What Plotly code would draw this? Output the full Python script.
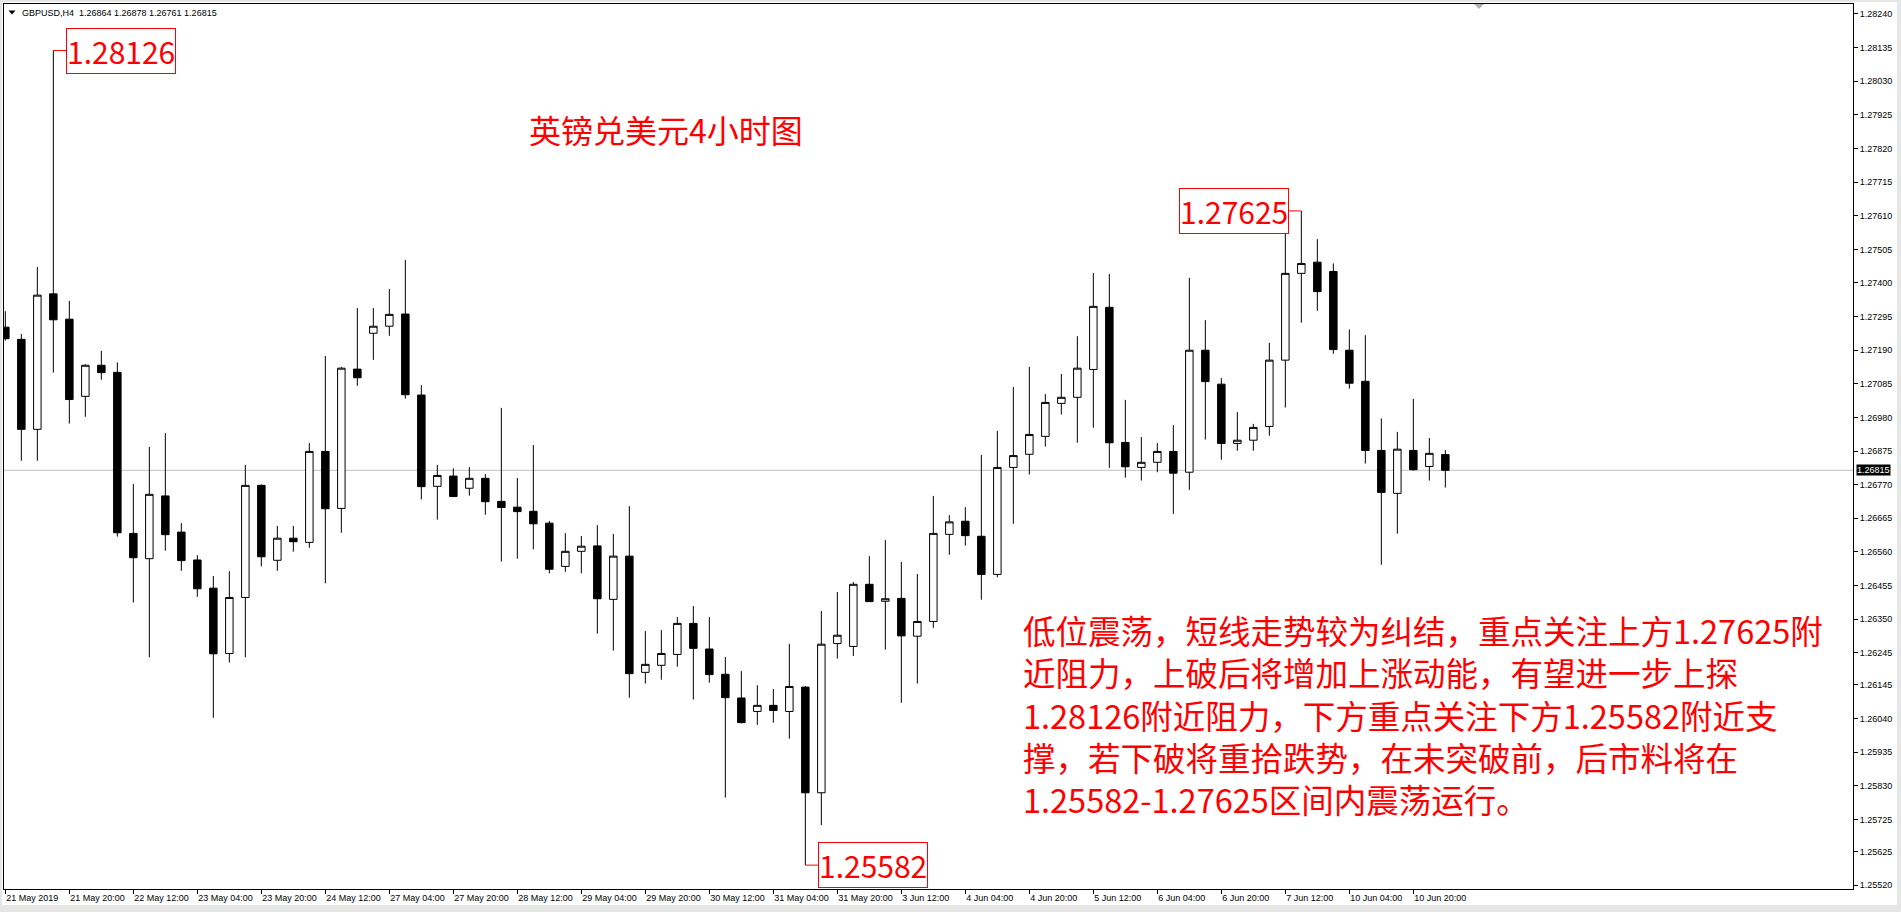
import plotly.graph_objects as go

# ---------------- data ----------------
opens = [1.27262, 1.27224, 1.26943, 1.27366, 1.27287, 1.27046, 1.27143, 1.27121, 1.26618, 1.26539,
         1.26735, 1.26622, 1.26535, 1.26447, 1.26243, 1.26418, 1.26768, 1.26534, 1.26603, 1.26590,
         1.26874, 1.26696, 1.27131, 1.27243, 1.27265, 1.27303, 1.27050, 1.26765, 1.26797, 1.26759,
         1.26790, 1.26718, 1.26700, 1.26687, 1.26650, 1.26515, 1.26562, 1.26579, 1.26412, 1.26547,
         1.26184, 1.26206, 1.26240, 1.26337, 1.26257, 1.26178, 1.26104, 1.26062, 1.26081, 1.26062,
         1.26138, 1.25808, 1.26274, 1.26265, 1.26459, 1.26406, 1.26415, 1.26297, 1.26343, 1.26615,
         1.26656, 1.26609, 1.26490, 1.26824, 1.26865, 1.26921, 1.27024, 1.27043, 1.27130, 1.27324,
         1.26902, 1.26824, 1.26840, 1.26874, 1.26809, 1.27190, 1.27084, 1.26899, 1.26909, 1.26952,
         1.27159, 1.27430, 1.27465, 1.27436, 1.27190, 1.27093, 1.26877, 1.26743, 1.26877, 1.26827,
         1.26864]
highs = [1.27312, 1.27241, 1.27450, 1.28126, 1.27344, 1.27146, 1.27188, 1.27152, 1.26772, 1.26888,
         1.26931, 1.26650, 1.26550, 1.26485, 1.26500, 1.26832, 1.26771, 1.26641, 1.26641, 1.26900,
         1.27172, 1.27138, 1.27322, 1.27322, 1.27381, 1.27472, 1.27081, 1.26832, 1.26821, 1.26825,
         1.26803, 1.27010, 1.26791, 1.26894, 1.26657, 1.26619, 1.26610, 1.26644, 1.26616, 1.26703,
         1.26313, 1.26316, 1.26357, 1.26391, 1.26357, 1.26232, 1.26188, 1.26144, 1.26132, 1.26273,
         1.26141, 1.26376, 1.26435, 1.26466, 1.26547, 1.26597, 1.26529, 1.26491, 1.26735, 1.26675,
         1.26700, 1.26863, 1.26938, 1.27075, 1.27138, 1.27053, 1.27116, 1.27234, 1.27431, 1.27428,
         1.27035, 1.26919, 1.26900, 1.26956, 1.27416, 1.27284, 1.27103, 1.26997, 1.26960, 1.27213,
         1.27562, 1.27625, 1.27537, 1.27461, 1.27255, 1.27237, 1.26977, 1.26935, 1.27038, 1.26916,
         1.26878]
lows = [1.27220, 1.26845, 1.26845, 1.27120, 1.26961, 1.26982, 1.27098, 1.26608, 1.26402, 1.26231,
        1.26564, 1.26501, 1.26420, 1.26042, 1.26215, 1.26231, 1.26515, 1.26501, 1.26561, 1.26573,
        1.26462, 1.26620, 1.27079, 1.27160, 1.27235, 1.27039, 1.26724, 1.26661, 1.26732, 1.26736,
        1.26676, 1.26530, 1.26539, 1.26568, 1.26493, 1.26498, 1.26493, 1.26305, 1.26252, 1.26105,
        1.26149, 1.26161, 1.26202, 1.26099, 1.26152, 1.25793, 1.26025, 1.26020, 1.26027, 1.25977,
        1.25582, 1.25707, 1.26227, 1.26235, 1.26404, 1.26255, 1.26089, 1.26149, 1.26323, 1.26551,
        1.26580, 1.26411, 1.26481, 1.26648, 1.26802, 1.26889, 1.26989, 1.26901, 1.26948, 1.26823,
        1.26792, 1.26783, 1.26809, 1.26679, 1.26754, 1.26911, 1.26848, 1.26876, 1.26876, 1.26923,
        1.27011, 1.27276, 1.27313, 1.27179, 1.27070, 1.26836, 1.26520, 1.26617, 1.26814, 1.26783,
        1.26761]
closes = [1.27226, 1.26943, 1.27362, 1.27285, 1.27036, 1.27143, 1.27120, 1.26620, 1.26542, 1.26740,
          1.26614, 1.26533, 1.26445, 1.26242, 1.26418, 1.26768, 1.26545, 1.26603, 1.26592, 1.26874,
          1.26695, 1.27134, 1.27104, 1.27265, 1.27302, 1.27051, 1.26764, 1.26799, 1.26733, 1.26790,
          1.26717, 1.26699, 1.26686, 1.26648, 1.26506, 1.26562, 1.26578, 1.26414, 1.26547, 1.26180,
          1.26209, 1.26243, 1.26337, 1.26259, 1.26177, 1.26105, 1.26027, 1.26081, 1.26065, 1.26140,
          1.25808, 1.26272, 1.26300, 1.26459, 1.26405, 1.26414, 1.26298, 1.26343, 1.26618, 1.26654,
          1.26611, 1.26490, 1.26824, 1.26861, 1.26927, 1.27027, 1.27043, 1.27134, 1.27327, 1.26901,
          1.26826, 1.26840, 1.26874, 1.26806, 1.27190, 1.27092, 1.26899, 1.26909, 1.26949, 1.27159,
          1.27430, 1.27461, 1.27373, 1.27192, 1.27087, 1.26877, 1.26746, 1.26881, 1.26817, 1.26868,
          1.26815]

x_tick_labels = ["21 May 2019", "21 May 20:00", "22 May 12:00", "23 May 04:00", "23 May 20:00",
                 "24 May 12:00", "27 May 04:00", "27 May 20:00", "28 May 12:00", "29 May 04:00",
                 "29 May 20:00", "30 May 12:00", "31 May 04:00", "31 May 20:00", "3 Jun 12:00",
                 "4 Jun 04:00", "4 Jun 20:00", "5 Jun 12:00", "6 Jun 04:00", "6 Jun 20:00",
                 "7 Jun 12:00", "10 Jun 04:00", "10 Jun 20:00"]
x_tick_step = 4
y_tick_values = [1.28240, 1.28135, 1.28030, 1.27925, 1.27820, 1.27715, 1.27610, 1.27505, 1.27400,
                 1.27295, 1.27190, 1.27085, 1.26980, 1.26875, 1.26770, 1.26665, 1.26560, 1.26455,
                 1.26350, 1.26245, 1.26145, 1.26040, 1.25935, 1.25830, 1.25725, 1.25625, 1.25520]

symbol = "GBPUSD,H4"
title_text = "英镑兑美元4小时图"
comment_lines = [
    "低位震荡，短线走势较为纠结，重点关注上方1.27625附",
    "近阻力，上破后将增加上涨动能，有望进一步上探",
    "1.28126附近阻力，下方重点关注下方1.25582附近支",
    "撑，若下破将重拾跌势，在未突破前，后市料将在",
    "1.25582-1.27625区间内震荡运行。",
]

# ---------------- layout geometry ----------------
W, H = 1901, 912
ML, MR, MT, MB = 4, 48, 4, 23
PW, PH = W - ML - MR, H - MT - MB
BAR_PX = 16
x_min = -(5.33 - ML) / BAR_PX
x_max = x_min + PW / BAR_PX
y_min, y_max = 1.255075, 1.282712

def pxx(px):
    return (px - ML) / PW

def pxy(py):
    return 1 - (py - MT) / PH

xs = list(range(len(closes)))
RED = "#FF0000"
CJK = "Noto Sans CJK SC"
SMALL = "Liberation Sans"

fig = go.Figure()
fig.add_trace(go.Candlestick(
    x=xs, open=opens, high=highs, low=lows, close=closes,
    increasing=dict(line=dict(color="black", width=1), fillcolor="white"),
    decreasing=dict(line=dict(color="black", width=1), fillcolor="black"),
    whiskerwidth=0, hoverinfo="skip", showlegend=False,
))

shapes = []
# outer window frame
shapes.append(dict(type="rect", xref="paper", yref="paper", layer="below",
                   x0=pxx(2), x1=pxx(1897), y0=pxy(905), y1=pxy(2),
                   fillcolor="white", line=dict(width=0)))
# current price line
last = closes[-1]
shapes.append(dict(type="line", xref="paper", yref="y", x0=0, x1=1, y0=last, y1=last,
                   line=dict(color="#C0C0C0", width=1), layer="below"))
# header triangle
tx, ty = 12, 12.5
shapes.append(dict(type="path", xref="paper", yref="paper",
                   path=f"M {pxx(tx-3.5)} {pxy(ty-2)} L {pxx(tx+3.5)} {pxy(ty-2)} L {pxx(tx)} {pxy(ty+2)} Z",
                   fillcolor="black", line=dict(width=0)))
# chart-shift marker
sx = 1479
shapes.append(dict(type="path", xref="paper", yref="paper",
                   path=f"M {pxx(sx-5)} {pxy(4)} L {pxx(sx+5)} {pxy(4)} L {pxx(sx)} {pxy(9)} Z",
                   fillcolor="#B0B0B0", line=dict(width=0)))

annotations = []
# header
annotations.append(dict(xref="paper", yref="paper", x=pxx(20), y=pxy(12.7), xanchor="left", yanchor="middle",
                        showarrow=False,
                        text=f"{symbol}&nbsp;&nbsp;{opens[-1]:.5f} {highs[-1]:.5f} {lows[-1]:.5f} {closes[-1]:.5f}",
                        font=dict(family=SMALL, size=9, color="black")))
# current price tag
annotations.append(dict(xref="paper", yref="y", x=1, y=last, xanchor="left", yanchor="middle",
                        xshift=3, showarrow=False, text=f"{last:.5f}", bgcolor="black",
                        borderpad=0, font=dict(family=SMALL, size=9, color="white")))

# level labels with red boxes
i_hi = highs.index(max(highs))
i_lo = lows.index(min(lows))
i_rh = 60 + highs[60:].index(max(highs[60:]))
for xi, val, axp in [(i_hi, highs[i_hi], 67.7), (i_rh, highs[i_rh], -67.0), (i_lo, lows[i_lo], 67.4)]:
    annotations.append(dict(x=xi, y=val, xref="x", yref="y", text=f"{val:.5f}",
                            showarrow=True, arrowhead=0, arrowwidth=1, arrowcolor=RED,
                            ax=axp, ay=0, standoff=0, startstandoff=0,
                            bordercolor=RED, borderwidth=1, borderpad=0, bgcolor="white",
                            font=dict(family=CJK, size=30, color=RED)))

# title
annotations.append(dict(xref="paper", yref="paper", x=pxx(527), y=pxy(128.5), xanchor="left",
                        yanchor="middle", showarrow=False, text=title_text,
                        font=dict(family=CJK, size=32, color=RED)))
# comment block (one text, five lines)
annotations.append(dict(xref="paper", yref="paper", x=pxx(1021), y=pxy(714),
                        xanchor="left", yanchor="middle", align="left", showarrow=False,
                        text="<br>".join(comment_lines),
                        font=dict(family=CJK, size=32.5, color=RED)))

fig.update_layout(
    width=W, height=H,
    margin=dict(l=ML, r=MR, t=MT, b=MB, pad=0),
    paper_bgcolor="#E6E6E6", plot_bgcolor="white",
    showlegend=False, boxgap=0.33,
    shapes=shapes, annotations=annotations,
    xaxis=dict(range=[x_min, x_max], rangeslider=dict(visible=False),
               tickmode="array", tickvals=xs[::x_tick_step][:len(x_tick_labels)], ticktext=x_tick_labels,
               ticks="outside", ticklen=4, tickcolor="black", ticklabelposition="outside right",
               tickfont=dict(family=SMALL, size=9, color="black"),
               showgrid=False, zeroline=False, showline=True, mirror=True,
               linecolor="black", linewidth=1, fixedrange=True, automargin=False),
    yaxis=dict(range=[y_min, y_max], side="right",
               tickmode="array", tickvals=y_tick_values, ticktext=[f"{v:.5f}" for v in y_tick_values],
               ticks="outside", ticklen=4, tickcolor="black",
               tickfont=dict(family=SMALL, size=9, color="black"),
               showgrid=False, zeroline=False, showline=True, mirror=True,
               linecolor="black", linewidth=1, fixedrange=True, automargin=False),
)

fig.write_html("out.html", config={"displayModeBar": False, "staticPlot": True},
               post_script="document.body.style.margin='0px';document.body.style.overflow='hidden';")
